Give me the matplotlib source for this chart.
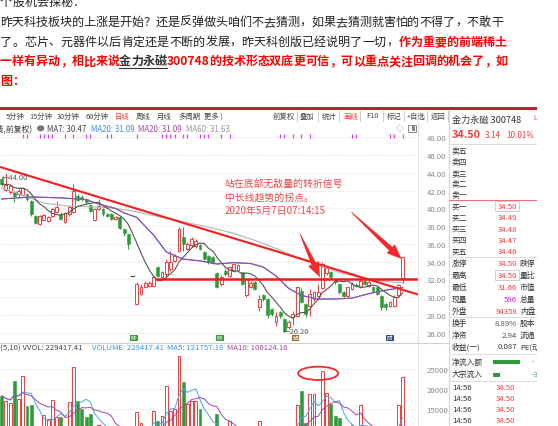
import re
import numpy as np
import pandas as pd
import matplotlib
matplotlib.use("Agg")
import matplotlib.pyplot as plt
from matplotlib.patches import Rectangle, Ellipse, Polygon
from matplotlib.lines import Line2D
from matplotlib.ticker import FuncFormatter, FixedLocator

plt.rcParams['font.family'] = ['Noto Sans CJK SC', 'DejaVu Sans']

# ---------------- daily candles, 金力永磁 300748 ----------------
opens = [43.32, 42.12, 41.82, 41.82, 41.63, 41.52, 41.63, 40.88, 39.19, 38.25,
         38.74, 38.63, 39.12, 39.57, 39.38, 38.50, 39.38, 39.57, 41.45, 41.33,
         41.07, 40.40, 38.70, 39.94, 39.94, 39.38, 39.38, 38.82, 39.08, 37.69,
         37.13, 32.40, 29.24, 30.40, 31.12, 31.23, 31.31, 33.37, 32.24, 32.62,
         33.18, 34.12, 35.25, 36.75, 35.44, 35.88, 35.74, 35.90, 35.06, 34.69,
         34.50, 32.70, 31.50, 33.00, 32.45, 33.00, 33.10, 32.80, 30.20, 31.20,
         31.70, 28.90, 30.20, 29.80, 28.70, 27.20, 28.30, 27.55, 26.60, 27.75,
         27.93, 30.74, 29.24, 29.05, 29.80, 30.18, 31.00, 32.70, 32.80, 32.06,
         31.50, 30.55, 30.18, 30.93, 31.40, 31.12, 31.87, 31.30, 31.12, 31.12,
         30.18, 29.24, 29.05, 29.05, 30.20, 32.20]
highs = [43.51, 44.00, 42.76, 42.00, 42.27, 42.40, 41.80, 41.00, 39.30, 39.30,
         39.40, 39.10, 40.10, 40.88, 39.60, 39.60, 40.30, 42.76, 41.60, 41.50,
         41.20, 40.50, 40.10, 41.07, 40.10, 39.50, 39.50, 39.10, 39.20, 37.80,
         37.20, 32.40, 31.70, 31.50, 31.80, 31.80, 32.40, 33.50, 33.00, 34.31,
         35.25, 34.90, 37.88, 37.88, 36.20, 36.75, 36.60, 36.00, 35.20, 34.80,
         34.60, 32.80, 32.50, 33.20, 33.50, 33.90, 33.80, 32.90, 32.10, 31.80,
         31.80, 30.30, 30.40, 29.90, 28.80, 28.30, 28.50, 27.70, 27.40, 28.40,
         31.30, 31.00, 29.40, 30.90, 30.70, 31.50, 34.00, 33.50, 33.00, 32.20,
         31.60, 30.70, 31.20, 31.70, 31.60, 32.00, 32.00, 31.90, 31.30, 31.20,
         30.30, 29.40, 29.60, 30.20, 31.50, 34.50]
lows = [42.57, 42.00, 41.63, 40.69, 41.26, 41.40, 40.90, 39.20, 38.20, 38.10,
        38.60, 38.50, 39.00, 39.45, 38.70, 38.40, 39.20, 39.50, 40.80, 40.90,
        40.50, 39.60, 38.60, 39.80, 39.20, 39.00, 38.70, 38.70, 37.70, 36.90,
        35.44, 32.40, 29.16, 30.20, 31.00, 31.10, 31.20, 32.30, 32.10, 32.24,
        33.00, 34.00, 35.10, 35.25, 35.30, 35.70, 35.60, 35.30, 34.20, 33.80,
        33.80, 31.00, 31.30, 32.40, 32.30, 32.90, 33.00, 31.40, 30.00, 31.00,
        30.80, 28.50, 29.60, 27.70, 27.90, 26.80, 27.70, 26.20, 26.40, 26.90,
        27.80, 29.30, 27.80, 27.90, 29.60, 30.00, 30.90, 32.50, 32.10, 31.50,
        30.40, 30.00, 30.00, 30.80, 31.10, 31.00, 31.40, 31.20, 30.60, 30.20,
        28.60, 28.60, 28.90, 28.90, 30.00, 31.66]
closes = [42.76, 42.65, 42.57, 41.45, 42.00, 42.27, 41.07, 39.38, 38.37, 39.10,
          39.27, 39.00, 39.94, 40.13, 38.82, 39.49, 40.13, 42.00, 41.00, 41.07,
          40.69, 39.75, 39.94, 40.32, 39.38, 39.12, 38.82, 39.00, 37.80, 37.24,
          36.00, 32.40, 31.49, 31.10, 31.60, 31.60, 32.24, 32.43, 32.81, 33.93,
          33.93, 34.69, 37.69, 36.00, 36.00, 36.56, 36.38, 35.44, 34.31, 33.93,
          33.90, 31.10, 32.30, 32.60, 33.37, 33.75, 33.60, 31.50, 32.00, 31.60,
          30.90, 29.80, 29.80, 27.95, 28.10, 27.90, 27.90, 26.23, 27.20, 28.10,
          31.12, 29.43, 28.12, 30.37, 30.55, 30.55, 33.75, 33.30, 32.30, 31.68,
          30.55, 30.18, 31.10, 31.50, 31.23, 31.87, 31.50, 31.70, 30.74, 30.37,
          28.86, 28.90, 29.43, 30.00, 31.36, 34.50]
volumes = [183000, 170000, 164000, 221000, 174000, 234000, 157000, 160000, 92000, 86000,
           134000, 123000, 173000, 130000, 130000, 98000, 168000, 255000, 170000, 149000,
           128000, 136000, 105000, 110000, 88000, 79000, 93000, 68000, 99000, 87000,
           102000, 26000, 141000, 115000, 90000, 82000, 145000, 119000, 132000, 208000,
           145000, 149000, 284000, 218000, 162000, 170000, 170000, 149000, 96000, 90000,
           85000, 136000, 92000, 83000, 119000, 95000, 88000, 97000, 103000, 76000,
           89000, 119000, 82000, 99000, 74000, 86000, 77000, 101000, 94000, 90000,
           159000, 196000, 114000, 187000, 188000, 105000, 245000, 190000, 162000, 131000,
           126000, 98000, 90000, 108000, 86000, 159000, 92000, 83000, 78000, 72000,
           99000, 76000, 80000, 94000, 159000, 229417.41]

# moving averages
ma20_idx = [0, 7, 14, 20, 23, 27, 29, 32, 36, 39, 43, 47, 51, 55, 59, 62, 65, 68,
            71, 75, 79, 83, 87, 91, 95]
ma20_val = [41.07, 41.30, 41.20, 41.00, 40.50, 40.00, 39.50, 39.00, 37.00, 35.10,
            34.30, 34.10, 33.75, 33.90, 33.80, 33.40, 32.40, 31.00, 30.20, 29.80,
            29.80, 29.90, 30.40, 30.80, 31.09]
ma60_idx = [0, 5, 10, 15, 20, 25, 30, 35, 40, 45, 50, 55, 60, 65, 70, 75, 80, 85, 90, 95]
ma60_val = [42.30, 41.50, 40.60, 40.30, 40.20, 40.10, 39.80, 39.30, 38.80, 38.30,
            37.80, 37.20, 36.40, 35.50, 34.50, 33.60, 32.80, 32.20, 31.80, 31.63]

# event markers along the top edge
event_idx = [5, 6, 9, 10, 11, 12, 15, 17, 20, 21, 25, 26, 32, 38, 39, 40, 41, 43, 44,
             47, 48, 49, 52, 54, 66, 67, 69, 71, 73, 83, 84, 92, 93, 95]

# drawn analysis: descending trend line, neckline, two arrows, volume ring
trend_idx = [-0.40, 98.65]
trend_price = [44.68, 30.31]
neck_start = 36.8
neck_price = 32.0
arrow1 = ((70.7, 37.13), (75.4, 32.25))
arrow2 = ((82.9, 39.57), (94.8, 34.31))
ring_center = (75.0, 239850)

price_ticks = [26, 28, 30, 32, 34, 36, 38, 40, 42, 44, 46, 48]
vol_ticks = [150000, 200000, 250000]
vol_grid = [100000, 150000, 200000, 250000]

# ---------------- figure ----------------
W, H, DPI = 558, 427, 100
fig = plt.figure(figsize=(W / DPI, H / DPI), dpi=DPI)
fig.patch.set_facecolor('white')

RED = '#f23b3b'
GREEN = '#2e9a3a'
GRAY = '#444444'


def box(x0, y0, x1, y1):
    return [x0 / W, 1 - y1 / H, (x1 - x0) / W, (y1 - y0) / H]


def T(x, y, s, size=5.4, color=GRAY, ha='left', weight='normal', **kw):
    return fig.text(x / W, 1 - y / H, s, fontsize=size, color=color, ha=ha,
                    va='center', fontweight=weight, **kw)


def hline(x0, x1, y, color='#dddddd', lw=0.8):
    fig.add_artist(Line2D([x0 / W, x1 / W], [1 - y / H] * 2, color=color, lw=lw))


def vline(x, y0, y1, color='#dddddd', lw=0.8):
    fig.add_artist(Line2D([x / W] * 2, [1 - y0 / H, 1 - y1 / H], color=color, lw=lw))


renderer = fig.canvas.get_renderer()


def paragraph_line(y, pieces, right=None, size=8.7):
    """Lay out one line of the article; with `right` the line is justified."""
    tokens = []
    for k, (s, color, weight, underline) in enumerate(pieces):
        for tok in re.findall(r'[0-9A-Za-z.]+|.', s):
            tokens.append((tok, color, weight, k if underline else None))
    arts, widths = [], []
    for tok, color, weight, _ in tokens:
        t = T(0, y, tok, size=size, color=color, weight=weight)
        arts.append(t)
        widths.append(t.get_window_extent(renderer).width)
    gap = 0.0 if right is None else (right - sum(widths)) / (len(tokens) - 1)
    x = 0.0
    spans = {}
    for (tok, color, weight, ul), t, w in zip(tokens, arts, widths):
        t.set_x(x / W)
        if ul is not None:
            x0, _, c = spans.get(ul, (x, x, color))
            spans[ul] = (x0, x + w, c)
        x += w + gap
    for x0, x1, c in spans.values():
        fig.add_artist(Line2D([x0 / W, x1 / W], [1 - (y + 7.5) / H] * 2, color=c, lw=0.8))


# ---------------- article text ----------------
TXT = '#222222'
TR = '#ff0000'
paragraph_line(2.4, [("个股机会探秘：", TXT, 'normal', False)])
paragraph_line(22.2, [("昨天科技板块的上涨是开始？还是反弹做头咱们不去猜测，如果去猜测就害怕的不得了，不敢干",
                       TXT, 'normal', False)], right=503)
paragraph_line(42.2, [("了。芯片、元器件以后肯定还是不断的发展，昨天科创版已经说明了一切，", TXT, 'normal', False),
                      ("作为重要的前端稀土", TR, 'bold', False)], right=507)
paragraph_line(61.8, [("一样有异动，相比来说", TR, 'bold', False),
                      ("金力永磁", '#333333', 'bold', True),
                      ("300748的技术形态双底更可信，可以重点关注回调的机会了，如", TR, 'bold', False)],
               right=508)
paragraph_line(81.0, [("图：", TR, 'bold', False)])

# ---------------- software frame ----------------
fig.add_artist(Rectangle((0, 1 - 110.8 / H), 537 / W, 3.2 / H, color='#b8262b', lw=0))

tool_left = [("5分钟", 5.7), ("15分钟", 29), ("30分钟", 57), ("60分钟", 86), ("日线", 115),
             ("周线", 136), ("月线", 157), ("多周期", 178), ("更多 )", 204)]
for s, x in tool_left:
    T(x, 116.5, s, size=5.3, color=RED if s == "日线" else GRAY)
T(295, 116.5, "前复权", size=5.3, ha='right')
tool_right = [("叠加", 300), ("统计", 321.7), ("画线", 343), ("F10", 366), ("标记", 387),
              ("+自选", 406.5), ("返回", 430.7)]
for s, x in tool_right:
    T(x, 116.5, s, size=5.3, color=RED if s == "画线" else GRAY)
for x in [296.7, 317.7, 339, 360, 383, 404, 427.3, 448.3]:
    vline(x, 111.5, 122, color='#cccccc')

vline(418, 124, 427, color='#e2e2e2')
vline(449, 111, 427, color='#d6d6d6')
hline(0, 449, 344, color='#d0d0d0')

# ---------------- price panel ----------------
ax = fig.add_axes(box(0, 131, 418, 344))
ax.set_facecolor('none')
ax.set_xlim(-0.403, 98.65)
ax.set_ylim(24.845, 48.845)
for sp in ax.spines.values():
    sp.set_visible(False)
ax.set_xticks([])
ax.yaxis.tick_right()
ax.yaxis.set_major_locator(FixedLocator(price_ticks))
ax.yaxis.set_major_formatter(FuncFormatter(lambda v, _: f"{v:.2f}"))
ax.tick_params(axis='y', length=0, pad=6.3, labelsize=5.6, labelcolor='#8a8a8a')
for p in price_ticks:
    ax.axhline(p, color='#d4d4d4', lw=0.6, ls=(0, (1, 2)), zorder=0)

idx = np.arange(len(closes))
bw = 0.34
for i in idx:
    o, h, l, c = opens[i], highs[i], lows[i], closes[i]
    if c > o:
        ax.plot([i, i], [c, h], color=RED, lw=0.7, zorder=2, solid_capstyle='butt')
        ax.plot([i, i], [l, o], color=RED, lw=0.7, zorder=2, solid_capstyle='butt')
        ax.add_patch(Rectangle((i - bw, o), 2 * bw, c - o, facecolor='white',
                               edgecolor=RED, lw=0.7, zorder=3))
    elif c == o:
        ax.plot([i - bw, i + bw], [c, c], color='#3a5a3a', lw=0.9, zorder=3)
    else:
        ax.plot([i, i], [l, h], color=GREEN, lw=0.7, zorder=2, solid_capstyle='butt')
        ax.add_patch(Rectangle((i - bw, c), 2 * bw, o - c, facecolor=GREEN,
                               edgecolor=GREEN, lw=0.4, zorder=3))

ma7 = pd.Series(closes).rolling(7, min_periods=1).mean()
ax.plot(ma60_idx, ma60_val, color='#b4b4b4', lw=0.8, zorder=4)
ax.plot(ma20_idx, ma20_val, color='#3a95e0', lw=0.8, zorder=4)
ax.plot(ma20_idx, ma20_val, color='#a048a8', lw=0.8, zorder=4)
ax.plot(idx, ma7, color='#555555', lw=0.8, zorder=4)

ax.plot(trend_idx, trend_price, color='#f51e1e', lw=1.5, zorder=5, clip_on=False)
ax.plot([neck_start, 98.65], [neck_price, neck_price], color='#f01c1c', lw=1.8, zorder=5)

ax.plot(event_idx, [0.973] * len(event_idx), ls='none', marker='|', ms=2.2, mew=0.9,
        color='#e044d8', transform=ax.get_xaxis_transform(), clip_on=False)

hi = int(np.argmax(highs))
lo = int(np.argmin(lows))
ax.text(hi - 1.0, highs[hi] - 0.45, f"←{highs[hi]:.2f}", fontsize=5.4, color='#555555',
        va='center', ha='left', zorder=6)
ax.text(lo - 0.4, lows[lo] - 0.05, f"←{lows[lo]:.2f}", fontsize=5.4, color='#555555',
        va='center', ha='left', zorder=6)


def tapered_arrow(tail, tip, color='#f32a2a'):
    tr = ax.transData
    p0 = tr.transform(tail)
    p1 = tr.transform(tip)
    d = p1 - p0
    u = d / np.hypot(*d)
    n = np.array([-u[1], u[0]])
    head_len, head_w, shaft_w, tail_w = 15.0, 12.0, 5.0, 0.8
    base = p1 - u * head_len
    pts = [p0 + n * tail_w / 2, base + n * shaft_w / 2, base + n * head_w / 2, p1,
           base - n * head_w / 2, base - n * shaft_w / 2, p0 - n * tail_w / 2]
    ax.add_patch(Polygon(tr.inverted().transform(pts), closed=True, facecolor=color,
                         edgecolor='none', zorder=7, clip_on=False))


tapered_arrow(*arrow1)
tapered_arrow(*arrow2)

for k, s in enumerate(["站在底部无敌量的转折信号", "中长线趋势的拐点。", "2020年5月7日07:14:15"]):
    T(225, 184 + k * 13.4, s, size=7.1, color='#f04646')

# legend row
T(32, 129.3, "(日线,前复权)", size=5.7, ha='right', color='#333333')
fig.add_artist(plt.Circle((40.7 / W, 1 - 129.3 / H), 3.0 / W, color='#777777'))
legend = [("MA7: 30.47", 46.7, '#444444'), ("MA20: 31.09", 90.7, '#3a95e0'),
          ("MA20: 31.09", 138.3, '#a048a8'), ("MA60: 31.63", 186, '#999999')]
for s, x, c in legend:
    T(x, 129.3, s, size=5.7, color=c)
T(396, 129, "◇", size=5.5, color='#888888')
fig.add_artist(Rectangle((408 / W, 1 - 133 / H), 8 / W, 7 / H, facecolor='white',
                         edgecolor='#888888', lw=0.7))
fig.add_artist(Rectangle((412 / W, 1 - 132 / H), 3 / W, 5 / H, facecolor='#888888', lw=0))

# event icons under the price panel
for x, c, s in [(130, '#3f9a3f', "除"), (216, '#3f9a3f', "除"), (291.7, '#8a6a3a', "解"),
                (386, '#304e78', "财")]:
    fig.add_artist(Rectangle((x / W, 1 - 342 / H), 7.5 / W, 6.5 / H, color=c, lw=0))
    T(x + 3.75, 338.8, s, size=4.0, color='white', ha='center')

# ---------------- volume panel ----------------
vx = fig.add_axes(box(0, 352, 418, 469))
vx.set_facecolor('none')
vx.set_xlim(-0.403, 98.65)
vx.set_ylim(0, 296450)
for sp in vx.spines.values():
    sp.set_visible(False)
vx.set_xticks([])
vx.yaxis.tick_right()
vx.yaxis.set_major_locator(FixedLocator(vol_ticks))
vx.yaxis.set_major_formatter(FuncFormatter(lambda v, _: f"{v / 10:.0f}"))
vx.tick_params(axis='y', length=0, pad=6.3, labelsize=5.6, labelcolor='#8a8a8a')
for v in vol_grid:
    vx.axhline(v, color='#d4d4d4', lw=0.6, ls=(0, (1, 2)), zorder=0)
for i in idx:
    if closes[i] > opens[i]:
        vx.add_patch(Rectangle((i - bw, 0), 2 * bw, volumes[i], facecolor='white',
                               edgecolor=RED, lw=0.7, zorder=3))
    else:
        vx.add_patch(Rectangle((i - bw, 0), 2 * bw, volumes[i], facecolor=GREEN,
                               edgecolor=GREEN, lw=0.4, zorder=3))
vs = pd.Series(volumes)
vx.plot(idx, vs.rolling(5, min_periods=1).mean(), color='#4aa3e6', lw=0.7, zorder=4)
vx.plot(idx, vs.rolling(10, min_periods=1).mean(), color='#a048a8', lw=0.7, zorder=4)
vx.add_patch(Ellipse(ring_center, 9.5, 33800, fill=False, edgecolor='#f02a2a', lw=1.3,
                     zorder=6))

T(0, 348.3, "(5,10) VVOL: 229417.41", size=5.6, color='#444444')
T(91.7, 348.3, "VOLUME: 229417.41", size=5.6, color='#3a95e0')
T(166.7, 348.3, "MA5: 121757.18", size=5.6, color='#3a95e0')
T(226.7, 348.3, "MA10: 106124.16", size=5.6, color='#a048a8')

# ---------------- quote panel ----------------
T(452, 120, "金力永磁 300748", size=6.6, color='#333333')
T(533, 118.5, "L", size=4.6, color=RED)
T(452, 135, "34.50", size=7.8, color=RED, weight='bold')
T(485, 135, "3.14", size=5.8, color=RED)
T(506, 135, "10.01%", size=5.8, color=RED)
hline(449, 537, 145)

book_labels = ["卖五", "卖四", "卖三", "卖二", "卖一", "买一", "买二", "买三", "买四", "买五"]
book_y = [151.7, 162.7, 174, 184.7, 195, 207.3, 218.3, 230, 240.7, 252.3]
bid_prices = ["34.50", "34.49", "34.48", "34.47", "34.46"]
for s, y in zip(book_labels, book_y):
    T(452, y, s, size=5.6, color='#333333')
for s, y in zip(bid_prices, book_y[5:]):
    T(517, y, s, size=5.6, color=RED, ha='right')
fig.add_artist(Rectangle((495 / W, 1 - 212.3 / H), 23.5 / W, 10 / H, fill=False,
                         edgecolor='#c8c8c8', lw=0.6))
hline(449, 537, 201, color='#f07080')
hline(449, 537, 258.3)

stats = [("涨停", "34.50", RED, "跌停", 264), ("最高", "34.50", RED, "量比", 275.7),
         ("最低", "31.66", RED, "市值", 288.3), ("现量", "596", '#d020c8', "总量", 300),
         ("外盘", "94358", RED, "内盘", 311.7), ("换手", "8.89%", '#555555', "股本", 324.3),
         ("净资", "2.94", '#555555', "流通", 335.7), ("收益(一)", "0.087", '#333333', "PE(动", 347.3)]
for lab, val, c, lab2, y in stats:
    T(452, y, lab, size=5.6, color='#333333')
    T(517, y, val, size=5.6, color=c, ha='right')
    T(520, y, lab2, size=5.6, color='#333333')
fig.add_artist(Rectangle((495 / W, 1 - 280.7 / H), 23.5 / W, 10 / H, fill=False,
                         edgecolor='#c8c8c8', lw=0.6))
hline(449, 537, 318)
hline(449, 537, 355)
T(452, 362.7, "净流入额", size=5.6, color='#333333')
T(452, 374.5, "大宗流入", size=5.6, color='#333333')
fig.add_artist(Rectangle((493 / W, 1 - 365.3 / H), 27 / W, 4.6 / H, color=GREEN, lw=0))
fig.add_artist(Rectangle((493 / W, 1 - 377.5 / H), 7 / W, 3.6 / H, color=GREEN, lw=0))
T(531.5, 362.7, "-", size=5.6, color=GREEN)
T(531.5, 375.5, "-3", size=5.6, color=GREEN)
hline(449, 537, 381.7)
for y in [388.3, 399.3, 410, 421]:
    T(452, y, "14:56", size=5.6, color='#333333')
    T(515, y, "34.50", size=5.6, color=RED, ha='right')

# the captured window ends at x = 537
fig.add_artist(Rectangle((537 / W, 0), (W - 537) / W, 1 - 100 / H, facecolor='white',
                         edgecolor='none', zorder=20))

fig.savefig("out.png", dpi=DPI, facecolor='white')
